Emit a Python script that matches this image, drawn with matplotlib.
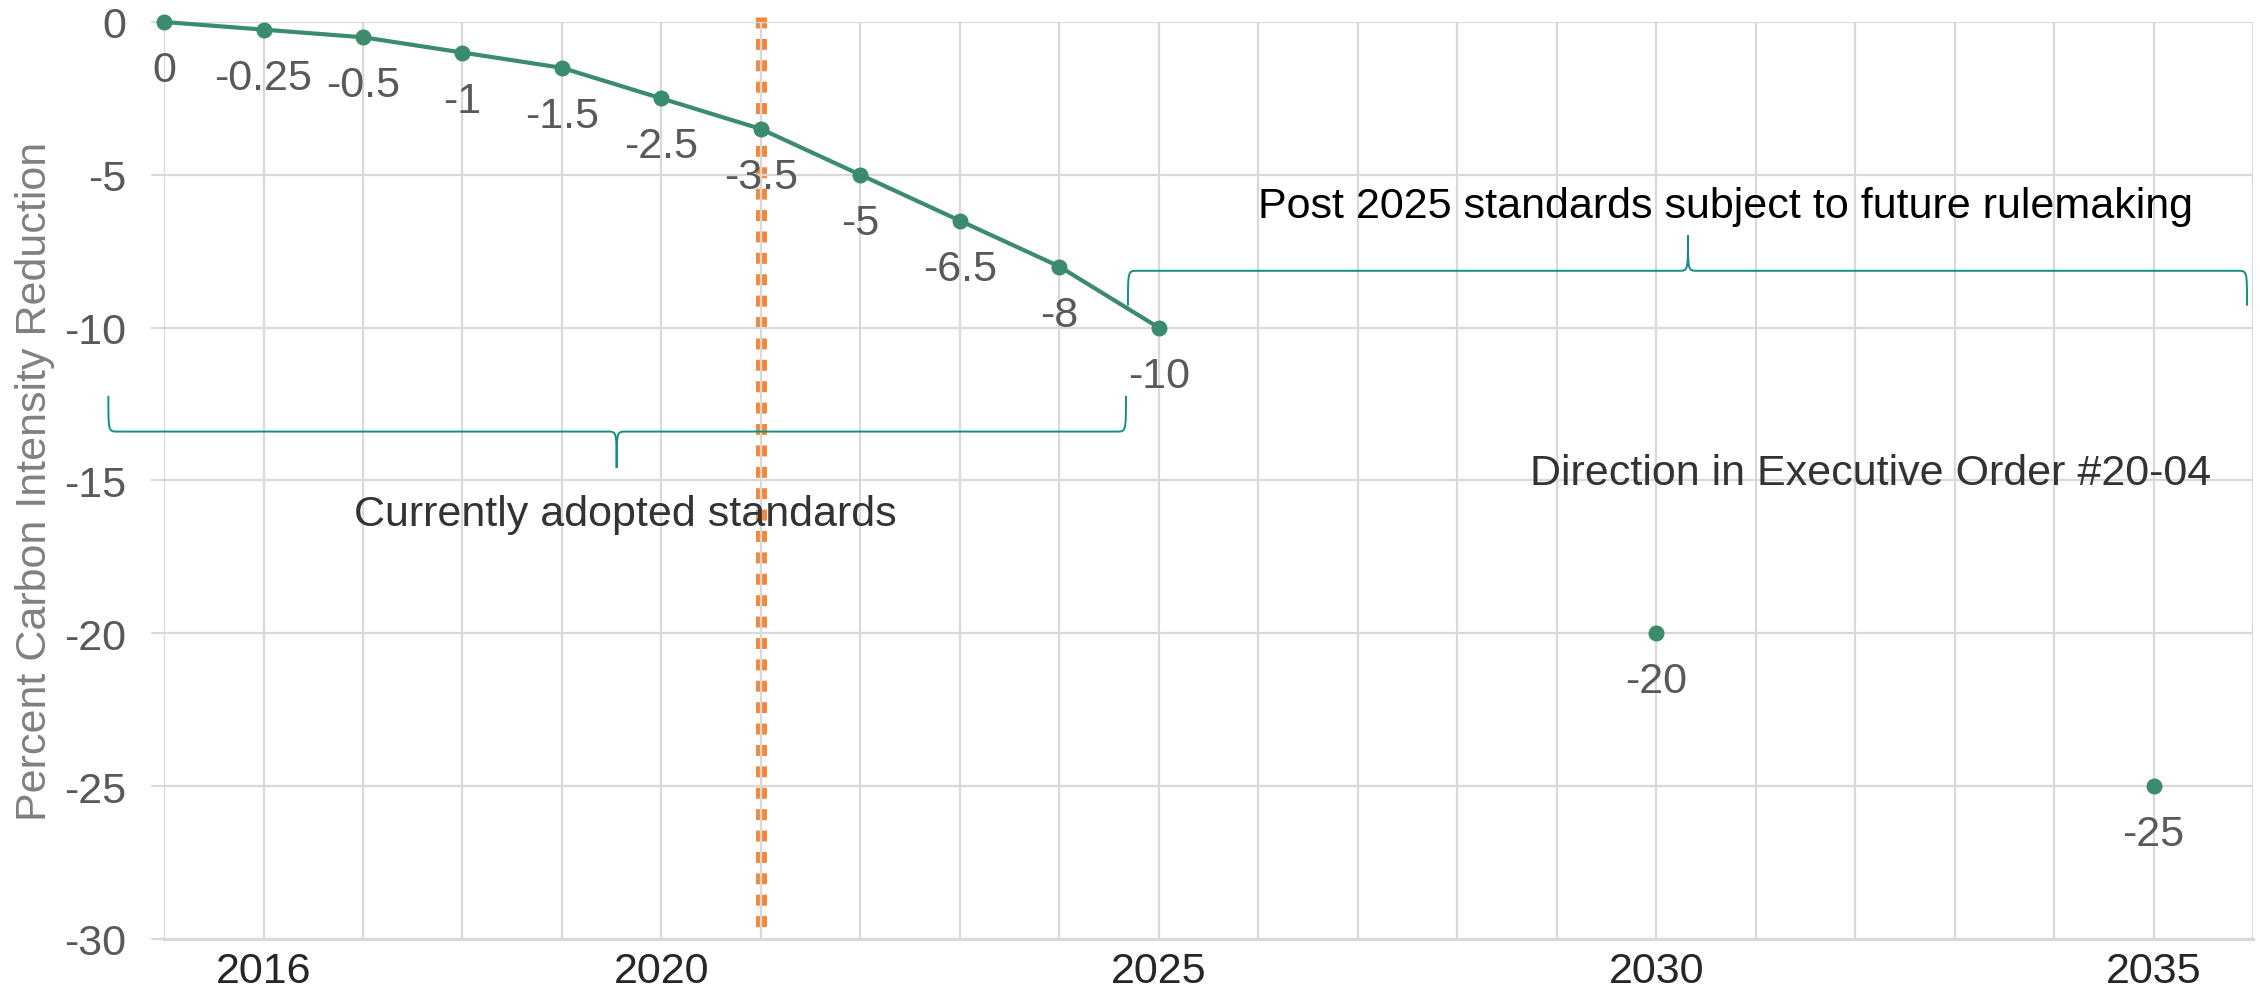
import matplotlib
matplotlib.use('Agg')
import matplotlib.pyplot as plt
from matplotlib.path import Path
from matplotlib.patches import PathPatch

# data
years = [2015, 2016, 2017, 2018, 2019, 2020, 2021, 2022, 2023, 2024, 2025]
reduction = [0, -0.25, -0.5, -1, -1.5, -2.5, -3.5, -5, -6.5, -8, -10]
eo_years = [2030, 2035]
eo_reduction = [-20, -25]

x_label_years = [2016, 2020, 2025, 2030, 2035]
y_ticks = [0, -5, -10, -15, -20, -25, -30]
marker_year = 2021

GREEN = '#3B8B6D'
TEAL = '#12907F'
ORANGE = '#F5873A'
GRID = '#D9D9D9'
FS = 31

plt.rcParams['font.family'] = ['Liberation Sans', 'DejaVu Sans']


def brace(ax, x0, x1, xt, y_line, y_end, y_tip, r=0.09):
    # curly brace: ends at y_end, flat part at y_line, point at y_tip
    verts = [
        (x0, y_end), (x0, y_line), (x0, y_line), (x0 + r, y_line),
        (xt - r, y_line),
        (xt, y_line), (xt, y_line), (xt, y_tip),
        (xt, y_line), (xt, y_line), (xt + r, y_line),
        (x1 - r, y_line),
        (x1, y_line), (x1, y_line), (x1, y_end),
    ]
    codes = [Path.MOVETO, Path.CURVE4, Path.CURVE4, Path.CURVE4,
             Path.LINETO,
             Path.CURVE4, Path.CURVE4, Path.CURVE4,
             Path.CURVE4, Path.CURVE4, Path.CURVE4,
             Path.LINETO,
             Path.CURVE4, Path.CURVE4, Path.CURVE4]
    patch = PathPatch(Path(verts, codes), facecolor='none', edgecolor=TEAL,
                      lw=1.4, clip_on=False, zorder=3)
    ax.add_patch(patch)


fig = plt.figure(figsize=(22.6, 9.95), dpi=100)
ax = fig.add_axes([0.0726, 0.0553, 0.9243, 0.9216])

ax.set_xlim(2015, 2036)
ax.set_ylim(-30, 0)

ax.set_xticks(range(2015, 2037))
ax.set_xticklabels([str(y) if y in x_label_years else '' for y in range(2015, 2037)])
ax.set_yticks(y_ticks)
ax.set_yticklabels([str(v) for v in y_ticks])

ax.set_axisbelow(True)
ax.grid(True, color=GRID, lw=1.6)
for side in ['top', 'right', 'left']:
    ax.spines[side].set_visible(False)
ax.spines['bottom'].set_color(GRID)
ax.spines['bottom'].set_linewidth(2.2)

ax.tick_params(axis='x', length=0, pad=9, labelsize=FS, labelcolor='#262626')
ax.tick_params(axis='y', length=9.4, width=1.5, color=GRID, pad=18,
               labelsize=FS, labelcolor='#595959')

# orange dashed marker line (gridline shows through its middle)
ax.plot([marker_year, marker_year], [0.16, -29.7], color=ORANGE, lw=7.9,
        dashes=(1.0, 0.95), solid_capstyle='butt', dash_capstyle='butt',
        clip_on=False, zorder=0.4)

ax.plot(years, reduction, color=GREEN, lw=3, marker='o', ms=10.5,
        clip_on=False, zorder=4)
ax.plot(eo_years, eo_reduction, color=GREEN, lw=0, marker='o', ms=10.5,
        clip_on=False, zorder=4)

for x, y in zip(years + eo_years, reduction + eo_reduction):
    ax.annotate(f'{y:g}', (x, y), xytext=(0, -42.5), textcoords='offset points',
                ha='center', va='baseline', fontsize=FS, color='#595959', zorder=5)

# braces
brace(ax, 2014.44, 2024.67, 2019.55, -13.40, -12.23, -14.59)
brace(ax, 2024.69, 2035.94, 2030.32, -8.14, -9.28, -6.97)

ax.text(2030.70, -6.38, 'Post 2025 standards subject to future rulemaking',
        ha='center', va='baseline', fontsize=FS, color='#000000')
ax.text(2019.64, -16.45, 'Currently adopted standards',
        ha='center', va='baseline', fontsize=FS, color='#333333')
ax.text(2032.16, -15.11, 'Direction in Executive Order #20-04',
        ha='center', va='baseline', fontsize=FS, color='#333333')

fig.text(35 / 2260, 0.516, 'Percent Carbon Intensity Reduction', rotation=90,
         ha='center', va='center', fontsize=FS, color='#808080')

fig.savefig('out.png', dpi=100)
plt.close(fig)
